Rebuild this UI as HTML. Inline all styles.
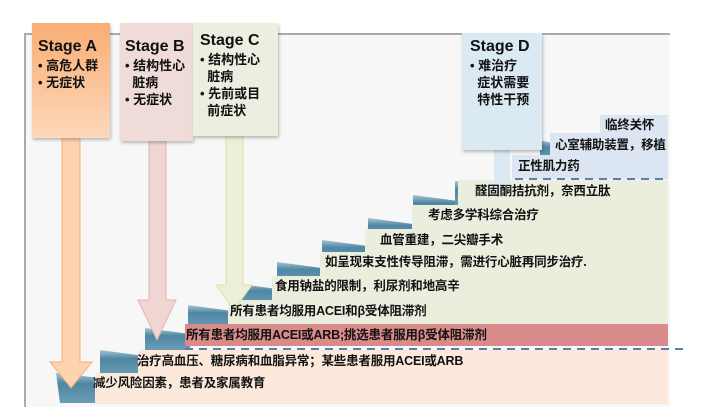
<!DOCTYPE html>
<html><head><meta charset="utf-8"><style>
body{margin:0;width:715px;height:418px;background:#fff;position:relative;overflow:hidden;font-family:"Liberation Sans","Noto Sans CJK SC",sans-serif;}
.a{position:absolute}
.t{position:absolute;font-size:12.5px;font-weight:bold;color:#111;white-space:nowrap;line-height:14px;letter-spacing:-0.2px}
.box{position:absolute;font-weight:bold;color:#111;box-shadow:1px 2px 3px rgba(0,0,0,.25)}
.box h{display:block;font-size:16px;line-height:20px}
.box div{font-size:13px;line-height:17px}
</style></head><body>
<div class="a" style="left:24px;top:33px;width:644px;height:372px;background:#f7f7f7;border-left:2px solid #aaa;border-top:2px solid #aaa"></div>
<svg class="a" style="left:0;top:0" width="715" height="418">
<defs><linearGradient id="st" x1="0" y1="0" x2="0" y2="1"><stop offset="0" stop-color="#a5c6d6"/><stop offset=".35" stop-color="#4f86a2"/><stop offset="1" stop-color="#6a9cb5"/></linearGradient></defs>
<g fill="url(#st)">
<polygon points="56,373 100,378 100,403 60,403"/>
<polygon points="100,350 145,356 145,375 100,375"/>
<polygon points="145,328 190,334 190,350 145,350"/>
<polygon points="188,305 232,311 232,328 188,328"/>
<polygon points="232,283 277,289 277,305 232,305"/>
<polygon points="277,262 322,268 322,283 277,283"/>
<polygon points="322,240 368,246 368,262 322,262"/>
<polygon points="368,218 413,224 413,240 368,240"/>
<polygon points="413,195 458,201 458,218 413,218"/>
<polygon points="455,181 500,186 500,205 455,205"/>
<polygon points="540,140 560,145 560,160 540,160"/>
</g>
<rect x="95" y="373" width="573" height="31" fill="#fde9dc"/>
<rect x="138" y="350" width="530" height="24" fill="#fde9dc"/>
<rect x="185" y="324" width="483" height="22" fill="#d98b8b"/>
<path d="M228 300H668V324H228Z M272 276H668V300H272Z M320 252H668V276H320Z M365 229H668V252H365Z M412 205H668V229H412Z M458 180H668V205H458Z" fill="#e9eedd"/>
<path d="M512 155H668V179H512Z M550 133H668V155H550Z M600 115H668V133H600Z" fill="#dce6f2"/>
<line x1="185" y1="349" x2="685" y2="349" stroke="#5a7fa6" stroke-width="2" stroke-dasharray="8,6"/>
<line x1="515" y1="179" x2="668" y2="179" stroke="#5a7fa6" stroke-width="2" stroke-dasharray="8,6"/>
<polygon points="62,135 80,135 80,362 92,362 71,388 50,362 62,362" fill="#fdd3b0" stroke="#f5b07a" stroke-width="1"/>
<polygon points="149,138 166,138 166,300 176,300 157,340 138,300 149,300" fill="#f0d6d2" stroke="#e4b4ac" stroke-width="1"/>
<polygon points="226,133 243,133 243,285 252,285 234,310 216,285 226,285" fill="#ecefd9" stroke="#e3e1a8" stroke-width="1"/>
<polygon points="494,148 510,148 510,190 494,190" fill="#dbe9f3"/>
</svg>
<div class="box" style="left:32px;top:23px;width:72px;height:115px;padding-left:6px;background:linear-gradient(#f9ad74,#fdd8bb)"><h style="margin-top:14px">Stage A</h><div>• 高危人群</div><div>• 无症状</div></div>
<div class="box" style="left:120px;top:23px;width:68px;height:118px;padding-left:5px;background:#efdcd9"><h style="margin-top:14px">Stage B</h><div>• 结构性心<br>&nbsp;&nbsp;脏病</div><div>• 无症状</div></div>
<div class="box" style="left:193px;top:23px;width:78px;height:113px;padding-left:7px;background:#ebefdf"><h style="margin-top:8px">Stage C</h><div>• 结构性心<br>&nbsp;&nbsp;脏病</div><div>• 先前或目<br>&nbsp;&nbsp;前症状</div></div>
<div class="box" style="left:462px;top:33px;width:72px;height:117px;padding-left:8px;background:#dbe9f3"><h style="margin-top:4px">Stage D</h><div>• 难治疗<br>&nbsp;&nbsp;症状需要<br>&nbsp;&nbsp;特性干预</div></div>
<div class="t" style="left:93px;top:376px">减少风险因素，患者及家属教育</div>
<div class="t" style="left:137px;top:354px">治疗高血压、糖尿病和血脂异常；某些患者服用ACEI或ARB</div>
<div class="t" style="left:186px;top:328px">所有患者均服用ACEI或ARB;挑选患者服用β受体阻滞剂</div>
<div class="t" style="left:230px;top:304px">所有患者均服用ACEI和β受体阻滞剂</div>
<div class="t" style="left:275px;top:279px">食用钠盐的限制，利尿剂和地高辛</div>
<div class="t" style="left:325px;top:255px">如呈现束支性传导阻滞，需进行心脏再同步治疗.</div>
<div class="t" style="left:380px;top:233px">血管重建，二尖瓣手术</div>
<div class="t" style="left:428px;top:208px">考虑多学科综合治疗</div>
<div class="t" style="left:475px;top:184px">醛固酮拮抗剂，奈西立肽</div>
<div class="t" style="left:518px;top:159px">正性肌力药</div>
<div class="t" style="left:555px;top:138px">心室辅助装置，移植</div>
<div class="t" style="left:605px;top:118px">临终关怀</div>
</body></html>
